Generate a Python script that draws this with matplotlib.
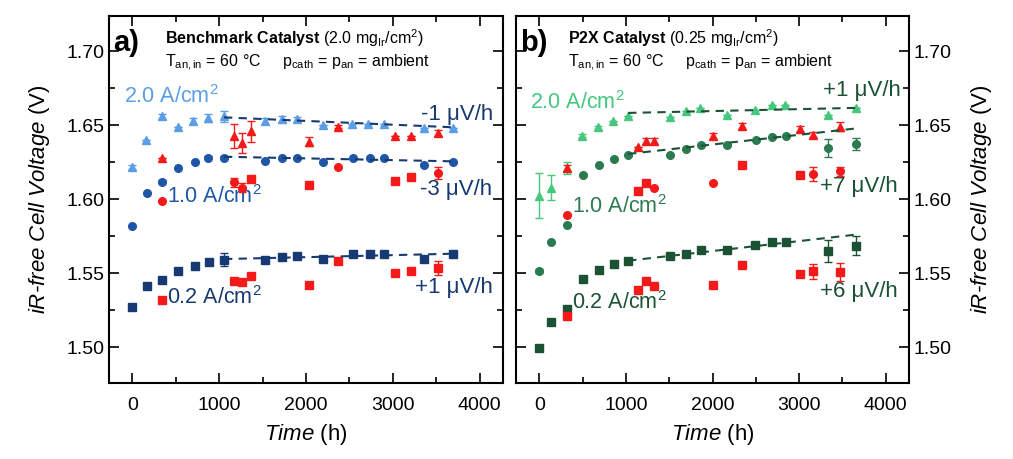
import matplotlib
matplotlib.use('Agg')
import matplotlib.pyplot as plt
from matplotlib.ticker import MultipleLocator, FormatStrFormatter

plt.rcParams['font.family'] = ['Liberation Sans', 'DejaVu Sans']
plt.rcParams['mathtext.fontset'] = 'custom'
plt.rcParams['mathtext.rm'] = 'Liberation Sans'
plt.rcParams['mathtext.it'] = 'Liberation Sans:italic'
plt.rcParams['mathtext.bf'] = 'Liberation Sans:bold'

# ---------------- Benchmark catalyst (panel a) ----------------
# 2.0 A/cm2
a_t20 = [0, 155, 335, 527, 703, 876, 1055, 1527, 1718, 1899, 2197, 2531, 2715, 2894, 3354, 3692]
a_v20 = [1.622, 1.640, 1.656, 1.649, 1.653, 1.655, 1.656, 1.653, 1.654, 1.654, 1.650, 1.651, 1.651, 1.651, 1.648, 1.648]
a_e20 = [0.0015, 0, 0.002, 0, 0.002, 0.0025, 0.0034, 0.002, 0.002, 0.0015, 0, 0, 0, 0, 0, 0]
# 1.0 A/cm2
a_t10 = [0, 167, 335, 527, 718, 876, 1055, 1527, 1718, 1899, 2197, 2542, 2733, 2894, 3354, 3692]
a_v10 = [1.582, 1.604, 1.612, 1.621, 1.625, 1.628, 1.628, 1.626, 1.628, 1.628, 1.625, 1.628, 1.628, 1.628, 1.6235, 1.625]
a_e10 = [0, 0, 0.001, 0, 0, 0.001, 0.001, 0, 0, 0, 0, 0, 0, 0, 0, 0]
# 0.2 A/cm2
a_t02 = [0, 167, 335, 527, 718, 883, 1055, 1527, 1718, 1899, 2197, 2542, 2733, 2894, 3354, 3692]
a_v02 = [1.527, 1.5417, 1.5458, 1.5514, 1.5552, 1.5577, 1.5593, 1.5593, 1.5608, 1.562, 1.560, 1.563, 1.563, 1.563, 1.560, 1.563]
a_e02 = [0, 0, 0, 0, 0, 0.001, 0.0045, 0, 0, 0, 0, 0, 0, 0, 0, 0]

# red reference measurements, panel a
a_rt = [335, 1170, 1267, 1362, 2032, 2370, 3029, 3213, 3526]
a_r20 = [1.628, 1.643, 1.638, 1.646, 1.639, 1.649, 1.643, 1.643, 1.645]
a_r20e = [0, 0.008, 0.007, 0.007, 0.003, 0.001, 0, 0, 0.002]
a_r10 = [1.599, 1.6115, 1.608, 1.614, 1.610, 1.622, 1.6127, 1.615, 1.618]
a_r10e = [0, 0.003, 0.003, 0, 0, 0, 0, 0, 0.004]
a_r10m = ['o', 'o', 'o', 's', 's', 'o', 's', 's', 'o']
a_r02 = [1.5322, 1.5451, 1.544, 1.548, 1.5424, 1.5586, 1.5502, 1.5518, 1.5536]
a_r02e = [0, 0, 0, 0, 0, 0, 0, 0, 0.0045]

# linear fits (start time, end time, start V, end V)
a_fit20 = [1055, 3692, 1.6554, 1.6487]
a_fit10 = [1055, 3692, 1.6288, 1.6257]
a_fit02 = [1055, 3692, 1.5597, 1.5633]

# ---------------- P2X catalyst (panel b) ----------------
b_t20 = [0, 137, 320, 491, 682, 853, 1025, 1509, 1691, 1851, 2168, 2491, 2682, 2842, 3329, 3654]
b_v20 = [1.6025, 1.608, 1.621, 1.643, 1.6487, 1.6532, 1.656, 1.6555, 1.6595, 1.6618, 1.6573, 1.6607, 1.6636, 1.6636, 1.6573, 1.6614]
b_e20 = [0.015, 0.0085, 0.004, 0.0012, 0.001, 0, 0, 0, 0, 0, 0, 0, 0, 0, 0, 0]
b_t10 = [0, 137, 317, 499, 689, 861, 1025, 1509, 1691, 1863, 2168, 2499, 2689, 2849, 3337, 3654]
b_v10 = [1.5518, 1.5712, 1.5825, 1.6168, 1.623, 1.6276, 1.630, 1.630, 1.634, 1.6366, 1.6366, 1.6404, 1.642, 1.6426, 1.6347, 1.6374]
b_e10 = [0.0015, 0, 0, 0, 0, 0, 0, 0, 0, 0, 0, 0, 0, 0, 0.006, 0.004]
b_t02 = [0, 137, 317, 499, 689, 861, 1025, 1509, 1691, 1863, 2168, 2491, 2689, 2849, 3329, 3654]
b_v02 = [1.4995, 1.517, 1.526, 1.546, 1.5525, 1.5563, 1.5586, 1.5615, 1.5633, 1.566, 1.566, 1.5694, 1.571, 1.5712, 1.5654, 1.5687]
b_e02 = [0, 0, 0, 0, 0, 0, 0, 0, 0, 0, 0, 0, 0, 0, 0.0075, 0.0065]

b_rt = [320, 1139, 1234, 1329, 2004, 2339, 3006, 3166, 3471]
b_r20 = [1.621, 1.6354, 1.6393, 1.6397, 1.6426, 1.6494, 1.6476, 1.6438, 1.649]
b_r20e = [0.002, 0, 0.002, 0.002, 0.002, 0.002, 0.002, 0.002, 0.003]
b_r10 = [1.5897, 1.6055, 1.611, 1.608, 1.611, 1.6235, 1.6163, 1.6172, 1.619]
b_r10e = [0, 0, 0, 0, 0, 0, 0, 0.005, 0.003]
b_r10m = ['o', 's', 's', 'o', 'o', 's', 's', 'o', 'o']
b_r02 = [1.5214, 1.539, 1.545, 1.5417, 1.5424, 1.5554, 1.5496, 1.5514, 1.5509]
b_r02e = [0, 0, 0, 0, 0, 0, 0, 0.005, 0.006]

b_fit20 = [1025, 3654, 1.6584, 1.6618]
b_fit10 = [1025, 3654, 1.6307, 1.6479]
b_fit02 = [1025, 3654, 1.5586, 1.5762]

# colours
c_lblue = '#5b9ee6'
c_blue = '#1f56a8'
c_navy = '#173a72'
c_lgreen = '#45c77e'
c_green = '#2c7a52'
c_dgreen = '#1b5234'
c_red = '#f41a1a'

ms = 5.5


def series(ax, t, v, e, color, marker):
    ax.errorbar(t, v, yerr=e, fmt=marker, color=color, ms=ms, mec=color,
                elinewidth=1, capsize=3, capthick=1, zorder=3)


def red_series(ax, t, v, e, markers):
    for ti, vi, ei, mi in zip(t, v, e, markers):
        ax.errorbar([ti], [vi], yerr=[ei], fmt=mi, color=c_red, ms=ms,
                    elinewidth=1, capsize=3, capthick=1, zorder=4)


def fit(ax, f, color):
    ax.plot(f[:2], f[2:], ls=(0, (4, 3)), color=color, lw=1.5, zorder=5)


fig = plt.figure(figsize=(10.13, 4.59), dpi=100)
ax1 = fig.add_axes([0.1076, 0.1656, 0.389, 0.80])
ax2 = fig.add_axes([0.5094, 0.1656, 0.388, 0.80])

# panel a
series(ax1, a_t20, a_v20, a_e20, c_lblue, '^')
series(ax1, a_t10, a_v10, a_e10, c_blue, 'o')
series(ax1, a_t02, a_v02, a_e02, c_navy, 's')
red_series(ax1, a_rt, a_r20, a_r20e, ['^'] * len(a_rt))
red_series(ax1, a_rt, a_r10, a_r10e, a_r10m)
red_series(ax1, a_rt, a_r02, a_r02e, ['s'] * len(a_rt))
fit(ax1, a_fit20, c_navy)
fit(ax1, a_fit10, c_navy)
fit(ax1, a_fit02, c_navy)

# panel b
series(ax2, b_t20, b_v20, b_e20, c_lgreen, '^')
series(ax2, b_t10, b_v10, b_e10, c_green, 'o')
series(ax2, b_t02, b_v02, b_e02, c_dgreen, 's')
red_series(ax2, b_rt, b_r20, b_r20e, ['^'] * len(b_rt))
red_series(ax2, b_rt, b_r10, b_r10e, b_r10m)
red_series(ax2, b_rt, b_r02, b_r02e, ['s'] * len(b_rt))
fit(ax2, b_fit20, c_dgreen)
fit(ax2, b_fit10, c_dgreen)
fit(ax2, b_fit02, c_dgreen)

for ax in (ax1, ax2):
    ax.set_xlim(-270, 4270)
    ax.set_ylim(1.476, 1.724)
    ax.xaxis.set_major_locator(MultipleLocator(1000))
    ax.xaxis.set_minor_locator(MultipleLocator(500))
    ax.yaxis.set_major_locator(MultipleLocator(0.05))
    ax.yaxis.set_minor_locator(MultipleLocator(0.025))
    ax.yaxis.set_major_formatter(FormatStrFormatter('%.2f'))
    ax.tick_params(which='both', direction='in', top=True, right=True, labelsize=14, width=1.2)
    ax.tick_params(which='major', length=7)
    ax.tick_params(which='minor', length=4)
    ax.tick_params(axis='x', pad=10)
    for s in ax.spines.values():
        s.set_linewidth(1.5)
    ax.set_xlabel(r'Time $\mathrm{(h)}$', style='italic', fontsize=16, labelpad=6)

ax1.set_ylabel(r'iR-free Cell Voltage $\mathrm{(V)}$', style='italic', fontsize=16, labelpad=10)
ax2.yaxis.tick_right()
ax2.tick_params(which='both', left=True, right=True, labelleft=False, labelright=True)
ax2.yaxis.set_label_position('right')
ax2.set_ylabel(r'iR-free Cell Voltage $\mathrm{(V)}$', style='italic', fontsize=16, labelpad=12)

# annotations panel a
ax1.text(0.01, 0.925, 'a)', transform=ax1.transAxes, fontsize=21, fontweight='bold', va='center')
ax1.text(0.142, 0.94, r'$\mathbf{Benchmark\ Catalyst}$ (2.0 mg$_\mathrm{Ir}$/cm$^2$)',
         transform=ax1.transAxes, fontsize=11.5, va='center')
ax1.text(0.142, 0.872, r'T$_\mathrm{an,in}$ = 60 °C     p$_\mathrm{cath}$ = p$_\mathrm{an}$ = ambient',
         transform=ax1.transAxes, fontsize=11.5, va='center')
ax1.text(0.038, 0.78, r'2.0 A/cm$^2$', transform=ax1.transAxes, fontsize=15.5, color=c_lblue, va='center')
ax1.text(0.975, 0.73, '-1 μV/h', transform=ax1.transAxes, fontsize=16, color=c_navy, va='center', ha='right')
ax1.text(0.147, 0.507, r'1.0 A/cm$^2$', transform=ax1.transAxes, fontsize=15.5, color=c_blue, va='center')
ax1.text(0.972, 0.526, '-3 μV/h', transform=ax1.transAxes, fontsize=16, color=c_navy, va='center', ha='right')
ax1.text(0.147, 0.234, r'0.2 A/cm$^2$', transform=ax1.transAxes, fontsize=15.5, color=c_navy, va='center')
ax1.text(0.975, 0.259, '+1 μV/h', transform=ax1.transAxes, fontsize=16, color=c_navy, va='center', ha='right')

# annotations panel b
ax2.text(0.01, 0.925, 'b)', transform=ax2.transAxes, fontsize=21, fontweight='bold', va='center')
ax2.text(0.132, 0.94, r'$\mathbf{P2X\ Catalyst}$ (0.25 mg$_\mathrm{Ir}$/cm$^2$)',
         transform=ax2.transAxes, fontsize=11.5, va='center')
ax2.text(0.132, 0.872, r'T$_\mathrm{an,in}$ = 60 °C     p$_\mathrm{cath}$ = p$_\mathrm{an}$ = ambient',
         transform=ax2.transAxes, fontsize=11.5, va='center')
ax2.text(0.036, 0.763, r'2.0 A/cm$^2$', transform=ax2.transAxes, fontsize=15.5, color=c_lgreen, va='center')
ax2.text(0.978, 0.796, '+1 μV/h', transform=ax2.transAxes, fontsize=16, color=c_dgreen, va='center', ha='right')
ax2.text(0.143, 0.48, r'1.0 A/cm$^2$', transform=ax2.transAxes, fontsize=15.5, color=c_green, va='center')
ax2.text(0.97, 0.534, '+7 μV/h', transform=ax2.transAxes, fontsize=16, color=c_dgreen, va='center', ha='right')
ax2.text(0.143, 0.22, r'0.2 A/cm$^2$', transform=ax2.transAxes, fontsize=15.5, color=c_dgreen, va='center')
ax2.text(0.97, 0.25, '+6 μV/h', transform=ax2.transAxes, fontsize=16, color=c_dgreen, va='center', ha='right')

fig.savefig('out.png', dpi=100)
